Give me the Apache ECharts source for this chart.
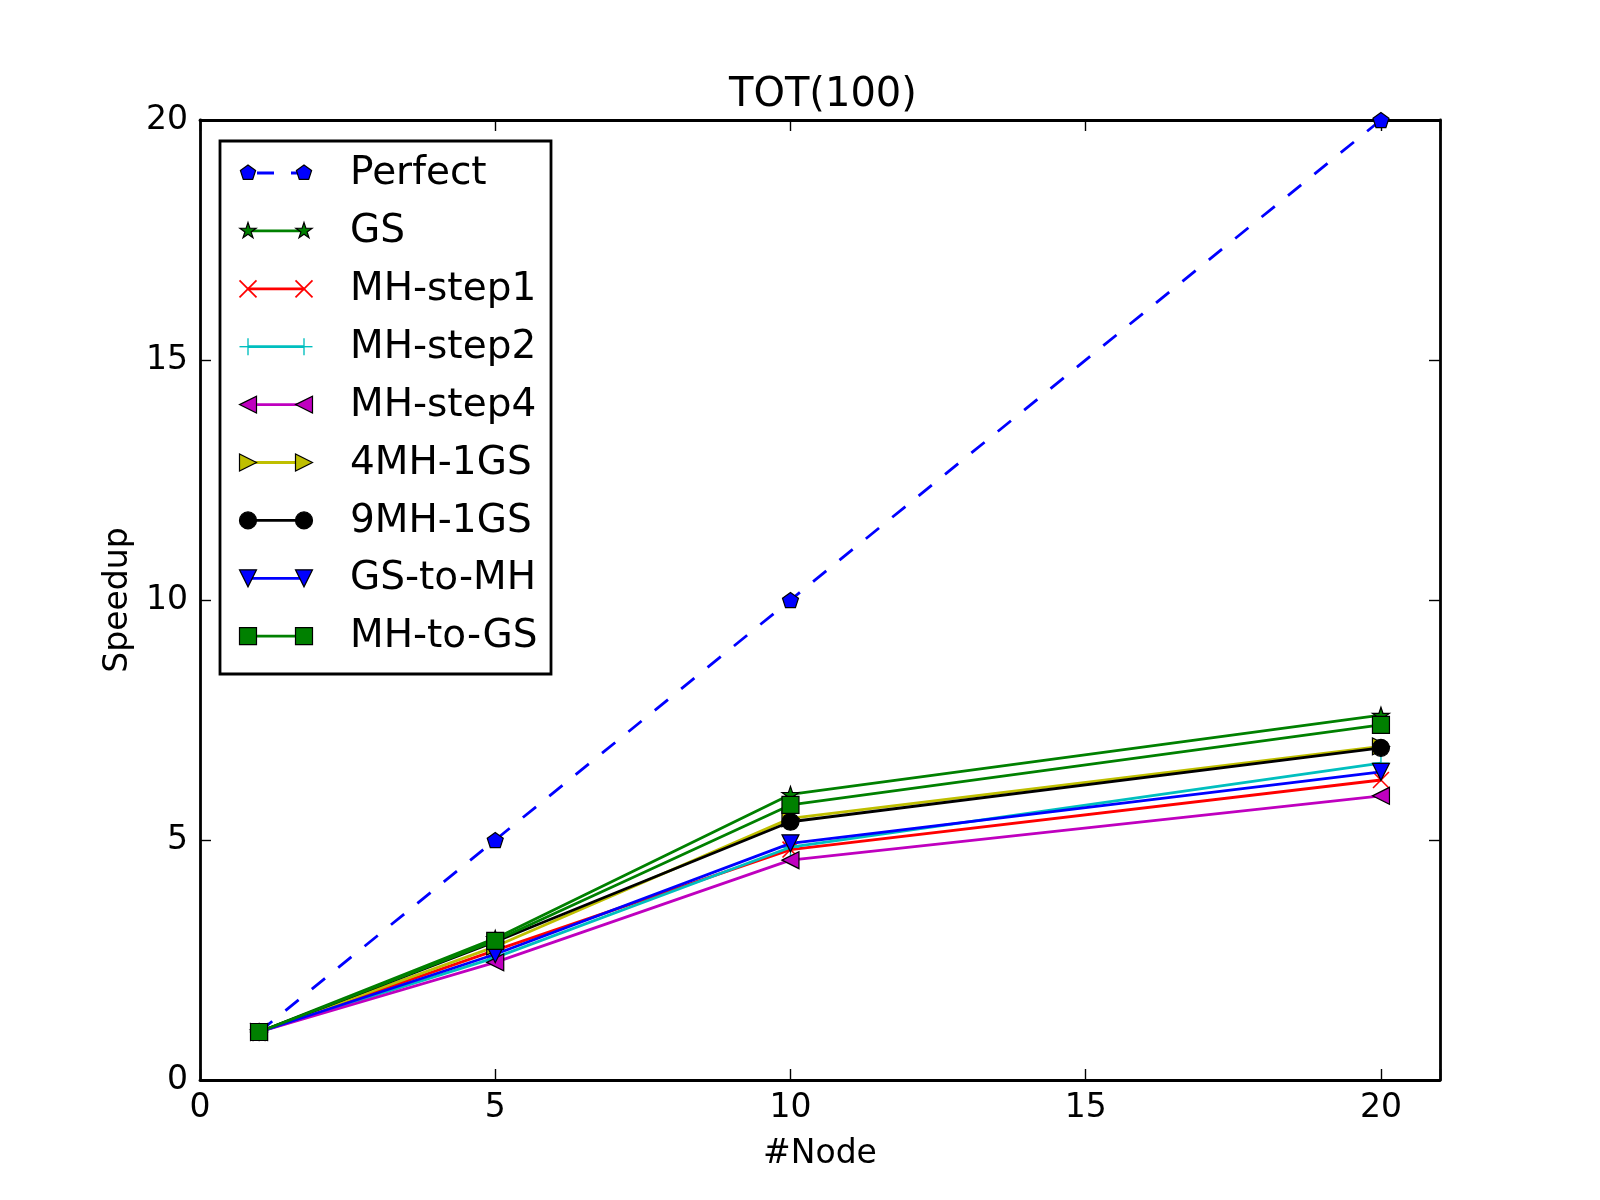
<!DOCTYPE html>
<html>
<head>
<meta charset="utf-8">
<title>TOT(100)</title>
<script src="https://cdn.jsdelivr.net/npm/echarts@6/dist/echarts.min.js"></script>
<style>
  html, body { margin: 0; padding: 0; background: #fff; }
  #main { width: 1600px; height: 1200px; }
</style>
</head>
<body>
<div id="main"></div>
<script>
// node counts on the x axis
var nodes = [1, 5, 10, 20];

// speedup per configuration
var perfect  = [1, 5, 10, 20];
var gs       = [1, 2.95, 5.95, 7.6];
var mhStep1  = [1, 2.7, 4.8, 6.25];
var mhStep2  = [1, 2.55, 4.85, 6.6];
var mhStep4  = [1, 2.45, 4.58, 5.92];
var mh4gs1   = [1, 2.78, 5.45, 6.95];
var mh9gs1   = [1, 2.88, 5.38, 6.92];
var gsToMh   = [1, 2.62, 4.93, 6.42];
var mhToGs   = [1, 2.9, 5.73, 7.4];

var seriesNames = ['Perfect', 'GS', 'MH-step1', 'MH-step2', 'MH-step4',
    '4MH-1GS', '9MH-1GS', 'GS-to-MH', 'MH-to-GS'];
var seriesValues = [perfect, gs, mhStep1, mhStep2, mhStep4, mh4gs1, mh9gs1, gsToMh, mhToGs];

var xTicks = [0, 5, 10, 15, 20];
var yTicks = [0, 5, 10, 15, 20];

// marker outlines in a unit box [-1,1] (matplotlib look-alikes), one list per sub-polygon
var SH_PENTAGON = [[[0, -1], [0.951, -0.309], [0.588, 0.809], [-0.588, 0.809], [-0.951, -0.309]]];
var SH_STAR = [[[0, -1], [0.225, -0.309], [0.951, -0.309], [0.363, 0.118], [0.588, 0.809], [0, 0.382],
    [-0.588, 0.809], [-0.363, 0.118], [-0.951, -0.309], [-0.225, -0.309]]];
var SH_X = [[[-0.93, -1.07], [1.07, 0.93], [0.93, 1.07], [-1.07, -0.93]],
    [[-0.93, 1.07], [-1.07, 0.93], [0.93, -1.07], [1.07, -0.93]]];
var SH_PLUS = [[[-1, -0.08], [1, -0.08], [1, 0.08], [-1, 0.08]],
    [[-0.08, -1], [0.08, -1], [0.08, 1], [-0.08, 1]]];
var SH_LEFT = [[[-1, 0], [1, -1], [1, 1]]];
var SH_RIGHT = [[[1, 0], [-1, -1], [-1, 1]]];
var SH_DOWN = [[[-1, -1], [1, -1], [0, 1]]];

function toPath(shape) {
    return 'path://' + shape.map(function (poly) {
        return poly.map(function (p, k) { return (k ? 'L' : 'M') + p[0] + ',' + p[1]; }).join('') + 'Z';
    }).join(' ');
}

var styles = [
    { color: '#0000ff', shape: SH_PENTAGON, size: 16, edge: true, dash: true },
    { color: '#008000', shape: SH_STAR, size: 17, edge: true },
    { color: '#ff0000', shape: SH_X, size: 17, edge: false },
    { color: '#00bfbf', shape: SH_PLUS, size: 17, edge: false },
    { color: '#bf00bf', shape: SH_LEFT, size: 17, edge: true },
    { color: '#bfbf00', shape: SH_RIGHT, size: 17, edge: true },
    { color: '#000000', shape: 'circle', size: 17, edge: true },
    { color: '#0000ff', shape: SH_DOWN, size: 17, edge: true },
    { color: '#008000', shape: 'rect', size: 17, edge: true }
];

var FONT = 'DejaVu Sans';
var gridL = 200, gridR = 160, gridT = 120, gridB = 120;

var series = seriesNames.map(function (name, i) {
    var st = styles[i];
    return {
        name: name,
        type: 'line',
        data: nodes.map(function (n, j) { return [n, seriesValues[i][j]]; }),
        symbol: typeof st.shape === 'string' ? st.shape : toPath(st.shape),
        symbolSize: st.size,
        symbolKeepAspect: true,
        showAllSymbol: true,
        animation: false,
        lineStyle: { color: st.color, width: 2.8, type: st.dash ? [17, 17] : 'solid' },
        itemStyle: {
            color: st.color,
            borderColor: '#000',
            borderWidth: st.edge ? 1.2 : 0,
            opacity: 1
        },
        emphasis: { disabled: true },
        z: 2 + i
    };
});

// legend drawn as a matplotlib-style box: two markers joined by a line
var legendBox = { x: 220, y: 141, w: 331, h: 533 };
var legendItems = [];
legendItems.push({
    type: 'rect',
    shape: { x: legendBox.x, y: legendBox.y, width: legendBox.w, height: legendBox.h },
    style: { fill: '#fff', stroke: '#000', lineWidth: 2.8 },
    z: 50
});
seriesNames.forEach(function (name, i) {
    var st = styles[i];
    var cy = 173 + 57.9 * i;
    var x1 = 248, x2 = 304;
    legendItems.push({
        type: 'line',
        shape: { x1: x1, y1: cy, x2: x2, y2: cy },
        style: { stroke: st.color, lineWidth: 2.8, lineDash: st.dash ? [17, 17] : null,
                 lineDashOffset: st.dash ? -9 : 0 },
        z: 51
    });
    [x1, x2].forEach(function (mx) {
        var s = st.size;
        var mstyle = { fill: st.color, stroke: st.edge ? '#000' : null, lineWidth: st.edge ? 1.2 : 0 };
        if (st.shape === 'circle') {
            legendItems.push({ type: 'circle', shape: { cx: mx, cy: cy, r: s / 2 }, style: mstyle, z: 52 });
        } else if (st.shape === 'rect') {
            legendItems.push({ type: 'rect', shape: { x: mx - s / 2, y: cy - s / 2, width: s, height: s },
                style: mstyle, z: 52 });
        } else {
            st.shape.forEach(function (poly) {
                legendItems.push({
                    type: 'polygon',
                    shape: { points: poly.map(function (p) { return [mx + p[0] * s / 2, cy + p[1] * s / 2]; }) },
                    style: mstyle,
                    z: 52
                });
            });
        }
    });
    legendItems.push({
        type: 'text',
        x: 350,
        y: cy + 1,
        style: { text: name, font: '39px "' + FONT + '"', fill: '#000', verticalAlign: 'middle', align: 'left' },
        z: 52
    });
});

function tickFmt(list) {
    return function (v) { return list.indexOf(v) >= 0 ? String(v) : ''; };
}

var axisCommon = {
    axisLine: { show: true, onZero: false, lineStyle: { color: '#000', width: 2.8 } },
    axisTick: { show: true, inside: true, length: 11, lineStyle: { color: '#000', width: 1.4 } },
    splitLine: { show: false }
};

var option = {
    backgroundColor: '#fff',
    animation: false,
    textStyle: { fontFamily: FONT },
    title: {
        text: 'TOT(100)',
        left: 729,
        top: 76,
        padding: 0,
        textStyle: { fontFamily: FONT, fontSize: 40, fontWeight: 'normal', color: '#000' }
    },
    grid: { left: gridL, right: gridR, top: gridT, bottom: gridB, containLabel: false },
    xAxis: [
        Object.assign({
            type: 'value', min: 0, max: 21, interval: 5, position: 'bottom',
            name: '#Node', nameLocation: 'middle', nameGap: 58,
            nameTextStyle: { fontFamily: FONT, fontSize: 33, color: '#000' },
            axisLabel: { color: '#000', fontSize: 33, fontFamily: FONT, margin: 12, formatter: tickFmt(xTicks) }
        }, axisCommon),
        Object.assign({
            type: 'value', min: 0, max: 21, interval: 5, position: 'top',
            axisLabel: { show: false }
        }, axisCommon)
    ],
    yAxis: [
        Object.assign({
            type: 'value', min: 0, max: 20, interval: 5, position: 'left',
            name: 'Speedup', nameLocation: 'middle', nameGap: 65,
            nameTextStyle: { fontFamily: FONT, fontSize: 33, color: '#000' },
            axisLabel: { color: '#000', fontSize: 33, fontFamily: FONT, margin: 12, formatter: tickFmt(yTicks) }
        }, axisCommon),
        Object.assign({
            type: 'value', min: 0, max: 20, interval: 5, position: 'right',
            axisLabel: { show: false }
        }, axisCommon)
    ],
    series: series,
    graphic: legendItems
};

var chart = echarts.init(document.getElementById('main'), null, { renderer: 'canvas' });
chart.setOption(option);
window.addEventListener('resize', chart.resize);
</script>
</body>
</html>
